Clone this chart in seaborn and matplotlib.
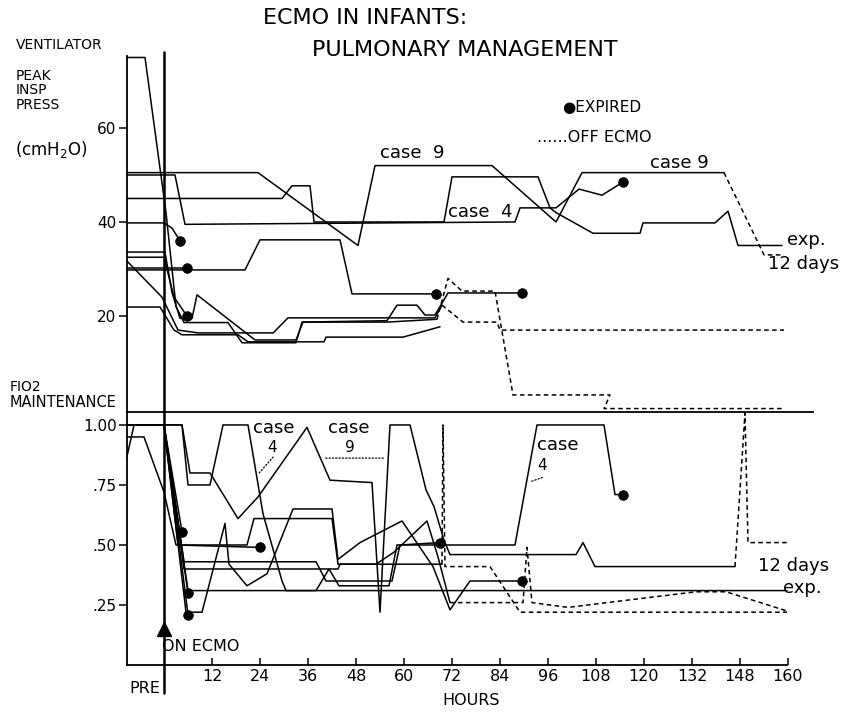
import matplotlib
matplotlib.use("Agg")
import matplotlib.pyplot as plt
import pandas as pd
import seaborn as sns

# ---------------- data (hours after start of ECMO, value) ----------------
# Ventilator peak inspiratory pressure (cmH2O)
pip_case9_h = [-9.5, 23.5, 48.5, 52.75, 82, 98, 104.5, 140]
pip_case9_v = [50.5, 50.5, 35, 52, 52, 40, 50.5, 50.5]
pip_case9_off_h = [140, 150, 154.5]
pip_case9_off_v = [50.5, 33, 33]

pip_case4_h = [-9.5, 2.75, 5.25, 87.75, 89, 98, 103.75, 109.5, 114.75]
pip_case4_v = [50, 50, 39.5, 40, 43, 43, 47, 45.7, 48.5]

pip_c_h = [-9.5, 29.5, 32, 36.5, 37.5, 70, 72, 93.5, 96.5, 98, 107.25, 119, 119.75, 137.75, 141, 143.5, 154.5]
pip_c_v = [45, 45, 47.7, 47.7, 40, 40, 49.6, 49.6, 43, 42, 37.6, 37.6, 39.8, 39.8, 42.3, 35, 35]

pip_d_h = [-9.5, 0, 2, 4]
pip_d_v = [39.8, 39.8, 38.7, 36]

pip_e_h = [-9.5, 20.25, 24, 44, 47, 68]
pip_e_v = [29.8, 29.8, 36.2, 36.2, 24.7, 24.7]

pip_f_h = [-9.5, 5.75]
pip_f_v = [30.3, 30.3]

pip_g_h = [-9.5, -4.75, 0.5, 3, 5, 16, 19.5, 33, 34.5, 55.75, 68.25]
pip_g_v = [75, 75, 42, 22, 18.6, 18.6, 14.3, 14.3, 18.7, 18.7, 19.3]
pip_g_off_h = [68.25, 71, 74.5, 82.75, 87.25, 111.5, 110, 155]
pip_g_off_v = [19.3, 28, 25.3, 25.3, 3.2, 3.2, 0.3, 0.3]

pip_b_h = [-9.5, 0.25, 2, 4, 7, 8.25, 22.75, 33, 34.75, 55.75, 58.25, 63.25, 65.25, 67.75, 71, 89.5]
pip_b_v = [33.6, 33.6, 25, 19.5, 19.5, 24.5, 14.9, 14.9, 18.7, 19, 22.3, 22.3, 20.2, 20.2, 24.9, 24.9]

pip_h_h = [-9.5, -0.5, 3.5, 8.5, 27.3, 31, 67.75, 69.5]
pip_h_v = [31.9, 24, 17, 16.4, 16.4, 19.6, 19.6, 22.3]
pip_h_off_h = [69.5, 74.75, 83.25, 84, 155]
pip_h_off_v = [22.3, 18.7, 18.7, 17, 17]

pip_i_h = [-9.5, -1, 2.5, 4.5, 18.5, 21, 40, 40.5, 59.75, 69]
pip_i_v = [21.9, 21.9, 17, 16, 16, 14.5, 14.5, 15.5, 15.5, 17.7]

pip_j_h = [-9.5, 0, 2.5, 5.75]
pip_j_v = [32.5, 32.5, 24, 20]

# FiO2 maintenance
fio_case4_h = [-9.5, 4.5, 6, 11.5, 14.75, 21, 24.75, 29.5, 30.5, 38, 41.25, 43.75, 56.25, 58.25, 87.75, 93.25, 110, 112.75, 114.75]
fio_case4_v = [1.0, 1.0, 0.75, 0.75, 1.0, 1.0, 0.63, 0.35, 0.31, 0.31, 0.40, 0.33, 0.33, 0.5, 0.5, 1.0, 1.0, 0.71, 0.71]

fio_case9_h = [-9.5, -7.5, 4.5, 6.5, 11.5, 18.5, 23.5, 35.75, 41.5, 52, 54, 56.5, 61.5, 65.5, 67.5, 70, 71.5, 103, 104.75, 107.75, 142.75]
fio_case9_v = [0.85, 1.0, 1.0, 0.80, 0.80, 0.61, 0.70, 0.99, 0.77, 0.76, 0.22, 1.0, 1.0, 0.73, 0.66, 0.52, 0.46, 0.46, 0.51, 0.41, 0.41]
fio_case9_off_h = [142.75, 145.25, 146, 155.75]
fio_case9_off_v = [0.41, 1.05, 0.51, 0.51]

fio_a_h = [-9.5, -5, 0, 3, 24]
fio_a_v = [0.95, 0.95, 0.72, 0.5, 0.49]
fio_b_h = [-9.5, 0, 4.5]
fio_b_v = [1.0, 1.0, 0.555]
fio_c_h = [-9.5, 0, 6]
fio_c_v = [1.0, 1.0, 0.30]
fio_d_h = [-9.5, 0, 6]
fio_d_v = [1.0, 1.0, 0.21]

fio_e_h = [-9.5, 0, 5.5, 9.5, 15.25, 16.25, 20.75, 25.75, 32.25, 42, 43.5, 49, 59.5, 67.25, 71.5, 76.5, 89.5]
fio_e_v = [1.0, 1.0, 0.22, 0.22, 0.59, 0.42, 0.33, 0.38, 0.65, 0.65, 0.44, 0.51, 0.6, 0.41, 0.23, 0.35, 0.35]

fio_f_h = [-9.5, 0, 3.5, 20.75, 22.5, 42, 43.5, 53, 57.5, 65.75, 68.5, 71.5]
fio_f_v = [1.0, 1.0, 0.5, 0.5, 0.61, 0.61, 0.42, 0.42, 0.47, 0.6, 0.45, 0.26]
fio_f_off_h = [71.5, 89.75, 90.75, 92, 101, 133, 140.5, 155.75]
fio_f_off_v = [0.26, 0.26, 0.49, 0.26, 0.24, 0.305, 0.305, 0.225]

fio_g_h = [-9.5, 0, 5, 43.5, 44, 69.5]
fio_g_v = [1.0, 1.0, 0.40, 0.40, 0.42, 0.42]
fio_g_off_h = [69.5, 69.75, 70.25, 81.5, 89, 155.75]
fio_g_off_v = [0.42, 1.0, 0.41, 0.41, 0.22, 0.22]

fio_exp_h = [-9.5, 0, 6, 155.75]
fio_exp_v = [1.0, 1.0, 0.31, 0.31]

fio_h_h = [-9.5, 0, 5, 38, 40.5, 57, 59, 69]
fio_h_v = [1.0, 1.0, 0.43, 0.43, 0.35, 0.35, 0.5, 0.51]

x_tick_pos = [12, 24, 36, 48, 60, 72, 84, 96, 108, 120, 132, 144, 156]
x_tick_labels = ["12", "24", "36", "48", "60", "72", "84", "96", "108", "120", "132", "148", "160"]
pip_ticks = [20, 40, 60]
pip_tick_labels = ["20", "40", "60"]
fio_ticks = [0.25, 0.5, 0.75, 1.0]
fio_tick_labels = [".25", ".50", ".75", "1.00"]

# ---------------- build tables ----------------
pip_series = [
    ("case9", pip_case9_h, pip_case9_v, "on", False),
    ("case9", pip_case9_off_h, pip_case9_off_v, "off", False),
    ("case4", pip_case4_h, pip_case4_v, "on", True),
    ("c", pip_c_h, pip_c_v, "on", False),
    ("d", pip_d_h, pip_d_v, "on", True),
    ("e", pip_e_h, pip_e_v, "on", True),
    ("f", pip_f_h, pip_f_v, "on", True),
    ("g", pip_g_h, pip_g_v, "on", False),
    ("g", pip_g_off_h, pip_g_off_v, "off", False),
    ("b", pip_b_h, pip_b_v, "on", True),
    ("h", pip_h_h, pip_h_v, "on", False),
    ("h", pip_h_off_h, pip_h_off_v, "off", False),
    ("i", pip_i_h, pip_i_v, "on", False),
    ("j", pip_j_h, pip_j_v, "on", True),
]
fio_series = [
    ("case4", fio_case4_h, fio_case4_v, "on", True),
    ("case9", fio_case9_h, fio_case9_v, "on", False),
    ("case9", fio_case9_off_h, fio_case9_off_v, "off", False),
    ("a", fio_a_h, fio_a_v, "on", True),
    ("b", fio_b_h, fio_b_v, "on", True),
    ("c", fio_c_h, fio_c_v, "on", True),
    ("d", fio_d_h, fio_d_v, "on", True),
    ("e", fio_e_h, fio_e_v, "on", True),
    ("f", fio_f_h, fio_f_v, "on", False),
    ("f", fio_f_off_h, fio_f_off_v, "off", False),
    ("g", fio_g_h, fio_g_v, "on", False),
    ("g", fio_g_off_h, fio_g_off_v, "off", False),
    ("exp", fio_exp_h, fio_exp_v, "on", False),
    ("h", fio_h_h, fio_h_v, "on", True),
]


def build(series):
    rows, dots = [], []
    for name, hs, vs, kind, expired in series:
        for x, y in zip(hs, vs):
            rows.append({"unit": name + "_" + kind, "hour": x, "value": y, "kind": kind})
        if expired:
            dots.append({"hour": hs[-1], "value": vs[-1]})
    return pd.DataFrame(rows), pd.DataFrame(dots)


pip_df, pip_dots = build(pip_series)
fio_df, fio_dots = build(fio_series)

# ---------------- figure ----------------
sns.set_theme(style="white")
plt.rcParams["font.family"] = ["DejaVu Sans"]
plt.rcParams["axes.edgecolor"] = "black"
plt.rcParams["text.color"] = "black"
plt.rcParams["xtick.color"] = "black"
plt.rcParams["ytick.color"] = "black"

W, H = 848, 713
fig = plt.figure(figsize=(W / 100, H / 100), dpi=100)


def rect(l, t, r, b):
    return [l / W, 1 - b / H, (r - l) / W, (b - t) / H]


ax1 = fig.add_axes(rect(127, 40, 848, 412))
ax2 = fig.add_axes(rect(127, 412, 848, 665))
for ax in (ax1, ax2):
    ax.set_xlim(-9.25, 171)
    ax.set_facecolor("white")
ax1.set_ylim(-0.43, 78.72)
ax2.set_ylim(0, 1.054)

dash_map = {"on": "", "off": (3, 2.2)}
for ax, df, dots in ((ax1, pip_df, pip_dots), (ax2, fio_df, fio_dots)):
    sns.lineplot(data=df, x="hour", y="value", units="unit", estimator=None, sort=False,
                 style="kind", dashes=dash_map, color="black", lw=1.1, legend=False, ax=ax)
    sns.scatterplot(data=dots, x="hour", y="value", color="black", s=48, edgecolor="black",
                    zorder=5, legend=False, ax=ax)
    ax.set_xlabel("")
    ax.set_ylabel("")

# spines
for s in ("top", "right", "bottom"):
    ax1.spines[s].set_visible(False)
ax1.spines["left"].set_bounds(-0.43, 75.3)
ax2.spines["right"].set_visible(False)
ax2.spines["bottom"].set_bounds(-9.25, 155.75)
ax2.spines["top"].set_bounds(-9.25, 162.25)
for ax in (ax1, ax2):
    for s in ax.spines.values():
        s.set_linewidth(1.3)
        s.set_color("black")

# ticks
ax1.set_xticks([])
ax1.set_yticks(pip_ticks)
ax1.set_yticklabels(pip_tick_labels)
ax2.set_yticks(fio_ticks)
ax2.set_yticklabels(fio_tick_labels)
ax2.set_xticks(x_tick_pos)
ax2.set_xticklabels(x_tick_labels)
for ax in (ax1, ax2):
    ax.tick_params(axis="y", direction="out", length=6, width=1.1, pad=1.5, labelsize=11,
                   left=True, colors="black")
ax2.tick_params(axis="x", direction="in", length=5, width=1.1, pad=3, labelsize=11.5,
                bottom=True, colors="black")

# ON ECMO reference line
ax1.axvline(0, ymin=0, ymax=(76.1 + 0.43) / (78.72 + 0.43), color="black", lw=1.8)
ax2.axvline(0, ymin=-0.11, ymax=1, color="black", lw=1.8, clip_on=False)
ax2.plot([0], [0.152], marker="^", color="black", markersize=10, clip_on=False)
ax2.text(-0.5, 0.079, "ON ECMO", ha="left", va="center", fontsize=11.5)
ax2.text(-4.75, -0.096, "PRE", ha="center", va="center", fontsize=11.5, clip_on=False)
ax2.text(76.75, -0.146, "HOURS", ha="center", va="center", fontsize=11.5, clip_on=False)

# case label leader lines (bottom)
lead = dict(arrowstyle="-", ls=":", lw=0.9, color="black")
ax2.annotate("", xy=(23.25, 0.79), xytext=(27.75, 0.875), arrowprops=lead)
ax2.annotate("", xy=(56.0, 0.862), xytext=(39.75, 0.862), arrowprops=lead)
ax2.annotate("", xy=(91.0, 0.76), xytext=(95.25, 0.785), arrowprops=lead)


def ft(x, y, s, **kw):
    kw.setdefault("va", "center")
    kw.setdefault("ha", "left")
    fig.text(x / W, 1 - y / H, s, **kw)


ft(365, 18, "ECMO IN INFANTS:", ha="center", fontsize=16)
ft(465, 50, "PULMONARY MANAGEMENT", ha="center", fontsize=16)
ft(16, 45, "VENTILATOR", fontsize=10)
ft(16, 76, "PEAK", fontsize=10)
ft(16, 90, "INSP", fontsize=10)
ft(16, 105, "PRESS", fontsize=10)
ft(15, 150, "(cmH$_2$O)", fontsize=12)
ft(10, 387, "FIO2", fontsize=10)
ft(10, 403, "MAINTENANCE", fontsize=10.5)
ft(562, 107, "\u25CFEXPIRED", fontsize=11)
ft(537, 137, "......OFF ECMO", fontsize=11.5)

ft(380, 153, "case  9", fontsize=13)
ft(448, 212, "case  4", fontsize=13)
ft(650, 163, "case 9", fontsize=13)
ft(787, 240, "exp.", fontsize=13)
ft(768, 264, "12 days", fontsize=13)

ft(253, 428, "case", fontsize=13)
ft(272, 448, "4", fontsize=11, ha="center")
ft(328, 428, "case", fontsize=13)
ft(350, 448, "9", fontsize=11, ha="center")
ft(537, 445, "case", fontsize=13)
ft(542, 466, "4", fontsize=11, ha="center")
ft(758, 566, "12 days", fontsize=13)
ft(783, 588, "exp.", fontsize=13)

fig.savefig("out.png", dpi=100, facecolor="white")
